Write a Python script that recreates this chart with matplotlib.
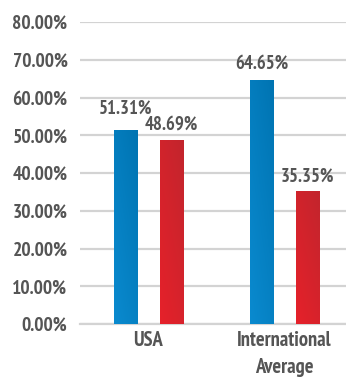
import matplotlib
matplotlib.use("Agg")
import matplotlib.pyplot as plt
import numpy as np
from matplotlib.colors import LinearSegmentedColormap

categories = ["USA", "International\nAverage"]
series_a = [51.31, 64.65]
series_b = [48.69, 35.35]
yticks = [0, 10, 20, 30, 40, 50, 60, 70, 80]

plt.rcParams['font.family'] = ['PT Sans Narrow', 'DejaVu Sans']

fig = plt.figure(figsize=(3.46, 3.81), dpi=100)
ax = fig.add_axes([80 / 346, 1 - 324 / 381, 266 / 346, 302 / 381])

x = np.arange(len(categories))
width = 0.17
offset = 0.167

grey = "#555555"
blue_cmap = LinearSegmentedColormap.from_list("b", ["#0A8ACF", "#0074B2"])
red_cmap = LinearSegmentedColormap.from_list("r", ["#E6212A", "#C2252D"])


def gradient_bars(xs, vals, cmap):
    bars = ax.bar(xs, vals, width, color="none", zorder=3)
    for b in bars:
        x0, y0 = b.get_x(), b.get_y()
        w, h = b.get_width(), b.get_height()
        gx, gy = np.meshgrid(np.linspace(0, 1, 40), np.linspace(0, 1, 80))
        grad = (gx * 0.4 + gy * 0.6)
        im = ax.imshow(grad, cmap=cmap, aspect="auto", origin="lower",
                       extent=[x0, x0 + w, y0, y0 + h], zorder=3)
        im.set_clip_path(b)
    return bars


gradient_bars(x - offset, series_a, blue_cmap)
gradient_bars(x + offset, series_b, red_cmap)

# value labels (pixel offsets above each bar)
lab_pad_a = [13, 7]
lab_pad_b = [7, 5]
for xi, v, p in zip(x - offset, series_a, lab_pad_a):
    ax.annotate(f"{v:.2f}%", (xi, v), xytext=(0, p * 0.72), textcoords="offset points",
                ha="center", va="bottom", fontsize=13.5, fontweight="bold", color=grey)
for xi, v, p in zip(x + offset, series_b, lab_pad_b):
    ax.annotate(f"{v:.2f}%", (xi, v), xytext=(0, p * 0.72), textcoords="offset points",
                ha="center", va="bottom", fontsize=13.5, fontweight="bold", color=grey)

ax.set_xlim(-0.503, 1.452)
ax.set_ylim(0, 80)
ax.set_yticks(yticks)
ax.set_yticklabels([f"{t:.2f}%" for t in yticks])
ax.yaxis.grid(True, color="#D3D3D3", linewidth=1.6, zorder=0)
ax.set_axisbelow(True)
ax.tick_params(axis="y", length=0, pad=9, labelsize=14, labelcolor=grey)
for lbl in ax.get_yticklabels():
    lbl.set_fontweight("bold")

ax.set_xticks(x)
ax.set_xticklabels(categories)
ax.tick_params(axis="x", length=0, pad=5, labelsize=14.8, labelcolor=grey)
for lbl in ax.get_xticklabels():
    lbl.set_fontweight("bold")
    lbl.set_linespacing(1.55)

for s in ["top", "right", "left"]:
    ax.spines[s].set_visible(False)
ax.spines["bottom"].set_color("#D3D3D3")
ax.spines["bottom"].set_linewidth(1.6)

fig.savefig("out.png", dpi=100, facecolor="white")
